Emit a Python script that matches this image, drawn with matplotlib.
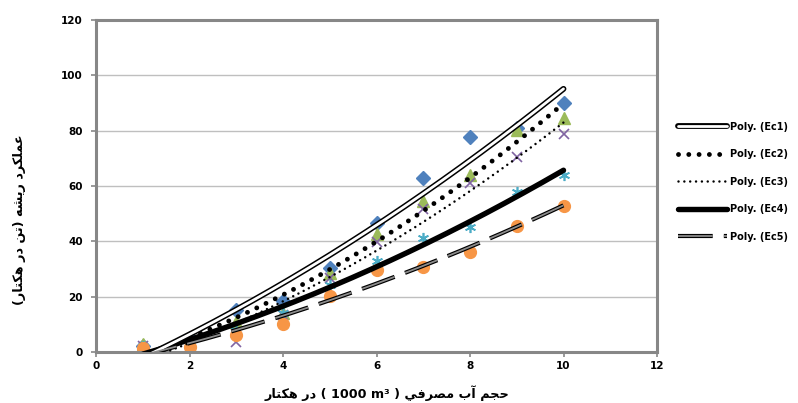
import numpy as np
import matplotlib
matplotlib.use("Agg")
import matplotlib.pyplot as plt

# water volume (1000 m3 / ha) and root yield for each treatment
x = [1, 2, 3, 4, 5, 6, 7, 8, 9, 10]
ec1 = [2.3, 5.0, 15.2, 18.5, 30.2, 46.7, 62.8, 77.6, 80.8, 89.9]
ec2 = [2.8, 4.0, 11.0, 14.2, 28.7, 42.6, 54.7, 64.0, 80.2, 84.4]
ec3 = [2.2, 3.0, 3.7, 13.4, 26.6, 39.9, 51.6, 61.2, 70.4, 78.8]
ec4 = [2.0, 3.0, 8.0, 14.0, 24.2, 32.9, 41.1, 45.3, 57.9, 64.0]
ec5 = [1.3, 1.7, 6.1, 10.1, 20.2, 29.6, 30.6, 36.0, 45.7, 52.8]
labels = ["Poly. (Ec1)", "Poly. (Ec2)", "Poly. (Ec3)", "Poly. (Ec4)", "Poly. (Ec5)"]

# --- arabic text: matplotlib has no shaping, so use presentation forms ---
FORMS = {
    "ا": ("\uFE8D", "\uFE8E", None, None),
    "آ": ("\uFE81", "\uFE82", None, None),
    "ب": ("\uFE8F", "\uFE90", "\uFE91", "\uFE92"),
    "ت": ("\uFE95", "\uFE96", "\uFE97", "\uFE98"),
    "ج": ("\uFE9D", "\uFE9E", "\uFE9F", "\uFEA0"),
    "ح": ("\uFEA1", "\uFEA2", "\uFEA3", "\uFEA4"),
    "د": ("\uFEA9", "\uFEAA", None, None),
    "ر": ("\uFEAD", "\uFEAE", None, None),
    "ش": ("\uFEB5", "\uFEB6", "\uFEB7", "\uFEB8"),
    "ص": ("\uFEB9", "\uFEBA", "\uFEBB", "\uFEBC"),
    "ع": ("\uFEC9", "\uFECA", "\uFECB", "\uFECC"),
    "ف": ("\uFED1", "\uFED2", "\uFED3", "\uFED4"),
    "ك": ("\uFED9", "\uFEDA", "\uFEDB", "\uFEDC"),
    "ل": ("\uFEDD", "\uFEDE", "\uFEDF", "\uFEE0"),
    "م": ("\uFEE1", "\uFEE2", "\uFEE3", "\uFEE4"),
    "ن": ("\uFEE5", "\uFEE6", "\uFEE7", "\uFEE8"),
    "ه": ("\uFEE9", "\uFEEA", "\uFEEB", "\uFEEC"),
    "ي": ("\uFEF1", "\uFEF2", "\uFEF3", "\uFEF4"),
}


def shape(word):
    out = []
    for i, ch in enumerate(word):
        f = FORMS[ch]
        prev_ok = i > 0 and FORMS[word[i - 1]][2] is not None
        next_ok = i < len(word) - 1 and f[2] is not None
        if prev_ok and next_ok:
            out.append(f[3])
        elif prev_ok:
            out.append(f[1])
        elif next_ok:
            out.append(f[2])
        else:
            out.append(f[0])
    return "".join(reversed(out))


xlabel = (shape("هكتار") + " " + shape("در") + " ( 1000 m\u00b3 ) "
          + shape("مصرفي") + " " + shape("آب") + " " + shape("حجم"))
ylabel = ("(" + shape("هكتار") + " " + shape("در") + " " + shape("تن") + ") "
          + shape("ريشه") + " " + shape("عملكرد"))

plt.rcParams["font.family"] = ["DejaVu Sans"]
plt.rcParams["lines.scale_dashes"] = False

fig = plt.figure(figsize=(7.98, 4.03), dpi=100)
ax = fig.add_axes([96 / 798, 1 - 352 / 403, 561 / 798, 332 / 403])

series = [ec1, ec2, ec3, ec4, ec5]
mk = [
    dict(marker="D", color="#4F81BD", ms=7, ls="none"),
    dict(marker="^", color="#9BBB59", ms=8, ls="none"),
    dict(marker="x", color="#8064A2", ms=7, mew=1.2, ls="none"),
    dict(marker=(6, 2, 0), color="#4BACC6", ms=8, mew=1.2, ls="none"),
    dict(marker="o", color="#F79646", ms=8.5, ls="none"),
]
for y, m in zip(series, mk):
    ax.plot(x, y, zorder=2, **m)

xs = np.linspace(1, 10, 200)
fits = [np.polyval(np.polyfit(x, y, 2), xs) for y in series]

handles = []
# Ec1: double line (black outline, white core)
a, = ax.plot(xs, fits[0], color="black", lw=4.2, zorder=3, solid_capstyle="round")
b, = ax.plot(xs, fits[0], color="white", lw=2.0, zorder=3.1, solid_capstyle="round")
handles.append((a, b))
# Ec2: round dots
c, = ax.plot(xs, fits[1], color="black", lw=3.5, ls=(0, (0.01, 7.4)),
             dash_capstyle="round", zorder=3)
handles.append(c)
# Ec3: small dots
d, = ax.plot(xs, fits[2], color="black", lw=1.8, ls=(0, (0.01, 4.2)),
             dash_capstyle="round", zorder=3)
handles.append(d)
# Ec4: thick solid
e, = ax.plot(xs, fits[3], color="black", lw=3.9, zorder=3, solid_capstyle="round")
handles.append(e)
# Ec5: long dash, grey with black edge
f1, = ax.plot(xs, fits[4], color="black", lw=3.0, ls=(0, (25, 8)), zorder=3)
f2, = ax.plot(xs, fits[4], color="#8C8C8C", lw=1.3, ls=(0, (25, 8)), zorder=3.1)
handles.append((f1, f2))

ax.set_xlim(0, 12)
ax.set_ylim(0, 120)
ax.set_xticks(range(0, 13, 2))
ax.set_yticks(range(0, 121, 20))
ax.yaxis.grid(True, color="#BFBFBF", lw=1.0)
ax.set_axisbelow(True)
for s in ax.spines.values():
    s.set_color("#878787")
    s.set_linewidth(2.2)
ax.tick_params(direction="out", length=3.5, width=1.2, color="#878787",
               labelsize=7.5, pad=3)
for t in ax.get_xticklabels() + ax.get_yticklabels():
    t.set_fontweight("bold")
ax.tick_params(axis="y", pad=6)

fig.text(387 / 798, 1 - 393 / 403, xlabel, ha="center", va="center",
         fontsize=9.2, fontweight="bold")
fig.text(20 / 798, 1 - 220 / 403, ylabel, ha="center", va="center",
         rotation=90, fontsize=9.2, fontweight="bold")

fig.legend(handles, labels, loc="upper left", bbox_to_anchor=(674 / 798, 1 - 118 / 403),
           frameon=False, prop=dict(size=7, weight="bold"), handlelength=5,
           handletextpad=0.35, labelspacing=1.8, borderaxespad=0)

fig.savefig("out.png", dpi=100)
